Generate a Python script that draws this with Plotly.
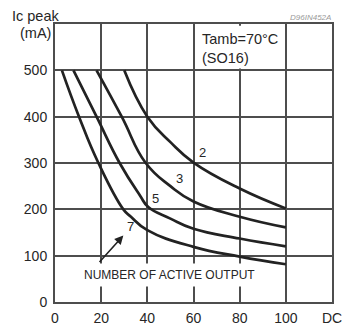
import plotly.graph_objects as go

# Peak collector current vs duty cycle, one curve per number of active outputs
duty_2 = [30, 40, 50, 60, 80, 100]
ic_2 = [500, 400, 345, 301, 245, 202]

duty_3 = [18, 28.9, 39.3, 50, 60, 80, 100]
ic_3 = [500, 400, 300, 250, 217, 184, 161]

duty_5 = [8, 18, 28, 36.8, 40.4, 50, 60, 80, 100]
ic_5 = [500, 400, 300, 230, 205, 180, 158, 137, 120]

duty_7 = [3, 10.4, 18.8, 29.6, 32.9, 40, 60, 80, 100]
ic_7 = [500, 400, 300, 200, 184, 155, 119, 98, 81.5]

x_ticks = [0, 20, 40, 60, 80, 100, 120]
x_tick_text = ["0", "20", "40", "60", "80", "100", "DC"]
y_ticks = [0, 100, 200, 300, 400, 500, 600]
y_tick_text = ["0", "100", "200", "300", "400", "500", ""]

# curve labels: (text, x, y)
curve_labels = [("2", 64.1, 323), ("3", 53.8, 267), ("5", 43.4, 223), ("7", 32.8, 164)]

FONT = "Liberation Sans, Arial, sans-serif"
INK = "#262626"
GRID = "#4d4d4d"

fig = go.Figure()
for xs, ys in [(duty_2, ic_2), (duty_3, ic_3), (duty_5, ic_5), (duty_7, ic_7)]:
    fig.add_trace(go.Scatter(
        x=xs, y=ys, mode="lines",
        line=dict(color="#222222", width=2.7, shape="spline", smoothing=1.3),
        hoverinfo="skip", showlegend=False,
    ))

annotations = []
for txt, lx, ly in curve_labels:
    annotations.append(dict(x=lx, y=ly, xref="x", yref="y", text=txt, showarrow=False,
                            font=dict(family=FONT, size=13, color=INK)))

# condition box text
annotations.append(dict(x=63, y=547, xref="x", yref="y", xanchor="left", yanchor="middle",
                        align="left", text="Tamb=70°C<br>(SO16)", showarrow=False,
                        font=dict(family=FONT, size=14.5, color=INK)))

# note with white background hiding the grid behind it
annotations.append(dict(x=49.6, y=58, xref="x", yref="y", text="NUMBER OF ACTIVE OUTPUT",
                        showarrow=False, bgcolor="white", borderpad=4,
                        font=dict(family=FONT, size=12, color=INK)))

# arrow pointing to the curves
annotations.append(dict(x=29.6, y=143.5, ax=18.7, ay=83, xref="x", yref="y",
                        axref="x", ayref="y", text="", showarrow=True,
                        arrowhead=2, arrowsize=1.1, arrowwidth=1.6, arrowcolor="#222222"))

# axis title lines (paper coordinates, outside the plotting area)
annotations.append(dict(x=0.026, y=1.03, xref="paper", yref="paper", xanchor="right",
                        yanchor="middle", text="Ic peak", showarrow=False,
                        font=dict(family=FONT, size=14.5, color=INK)))
annotations.append(dict(x=-0.006, y=0.967, xref="paper", yref="paper", xanchor="right",
                        yanchor="middle", text="(mA)", showarrow=False,
                        font=dict(family=FONT, size=14.5, color=INK)))

# drawing reference code
annotations.append(dict(x=1.003, y=1.025, xref="paper", yref="paper", xanchor="right",
                        yanchor="middle", text="<i>D96IN452A</i>", showarrow=False,
                        font=dict(family=FONT, size=8, color="#9a9a9a")))

fig.update_layout(
    width=361, height=329,
    margin=dict(l=55, r=29, t=24, b=27, autoexpand=False),
    paper_bgcolor="white", plot_bgcolor="white",
    font=dict(family=FONT, size=14, color=INK),
    annotations=annotations,
    shapes=[dict(type="rect", xref="x", yref="y", x0=61, x1=99, y0=504, y1=596,
                 fillcolor="white", line=dict(width=0), layer="above")],
)
# invisible tick marks set the label distance from the frame
fig.update_xaxes(range=[0, 120], tickvals=x_ticks, ticktext=x_tick_text,
                 showgrid=True, gridcolor=GRID, gridwidth=2, zeroline=False,
                 showline=True, mirror=True, linecolor=GRID, linewidth=2,
                 ticks="outside", ticklen=2, tickcolor="rgba(0,0,0,0)",
                 tickfont=dict(size=14), automargin=False)
fig.update_yaxes(range=[0, 600], tickvals=y_ticks, ticktext=y_tick_text,
                 showgrid=True, gridcolor=GRID, gridwidth=2, zeroline=False,
                 showline=True, mirror=True, linecolor=GRID, linewidth=2,
                 ticks="outside", ticklen=3, tickcolor="rgba(0,0,0,0)",
                 tickfont=dict(size=14), automargin=False)

fig.write_html("out.html")
